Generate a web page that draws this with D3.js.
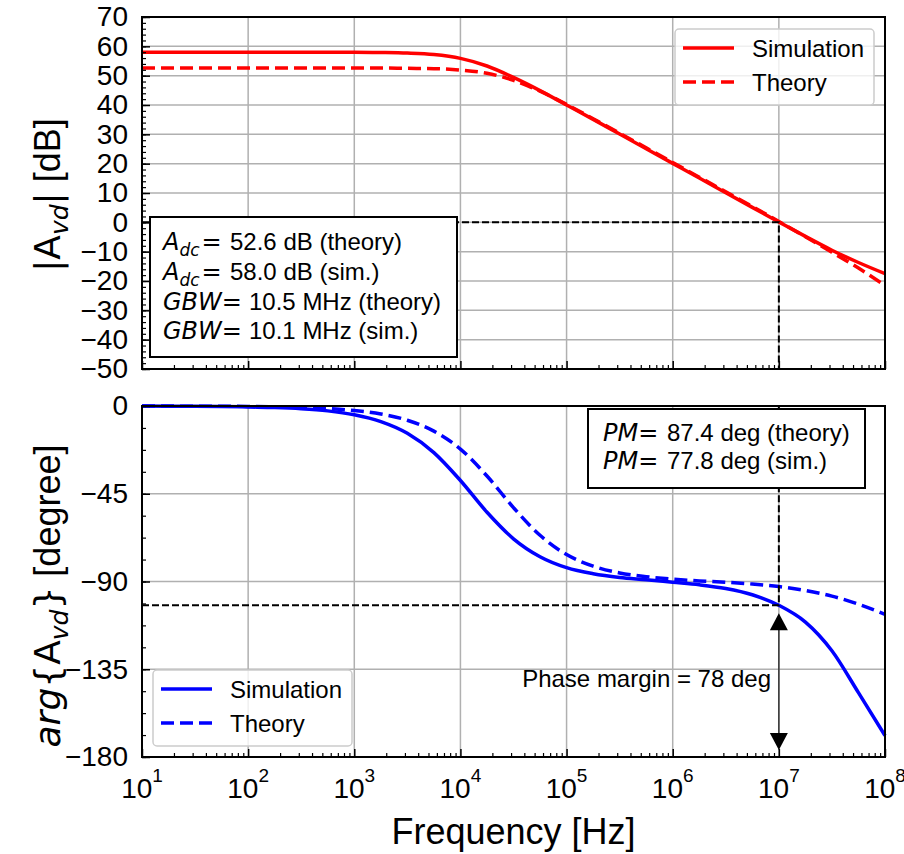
<!DOCTYPE html>
<html>
<head>
<meta charset="utf-8">
<script src="https://cdn.jsdelivr.net/npm/d3@7"></script>
<style>
  body { margin: 0; background: #fff; }
  svg { font-family: "Liberation Sans", Arial, sans-serif; }
  .math { font-family: "DejaVu Sans", sans-serif; }
</style>
</head>
<body>
<svg id="chart" width="904" height="854"></svg>
<script>
// frequencies in Hz (quarter-decade steps)
const freqs = [1e1, 1.78e1, 3.16e1, 5.62e1, 1e2, 1.78e2, 3.16e2, 5.62e2, 1e3, 1.78e3, 3.16e3, 5.62e3,
    1e4, 1.78e4, 3.16e4, 5.62e4, 1e5, 1.78e5, 3.16e5, 5.62e5, 1e6, 1.78e6, 3.16e6, 5.62e6,
    1e7, 1.78e7, 3.16e7, 5.62e7, 1e8];

// |Avd| in dB
const magSim = [58.0, 58.0, 58.0, 58.0, 58.0, 58.0, 58.0, 58.0, 58.0, 57.9, 57.7, 57.2,
    55.9, 53.3, 49.4, 44.9, 40.0, 35.1, 30.1, 25.1, 20.1, 15.1, 10.1, 5.1,
    0.1, -4.8, -9.5, -13.7, -17.5];
const magTheory = [52.6, 52.6, 52.6, 52.6, 52.6, 52.6, 52.6, 52.6, 52.6, 52.6, 52.5, 52.4,
    51.9, 50.8, 48.4, 44.7, 40.2, 35.3, 30.4, 25.4, 20.4, 15.4, 10.4, 5.4,
    0.3, -4.9, -10.2, -15.6, -21.5];

// arg{Avd} in degree
const phaseSim = [0, -0.1, -0.1, -0.2, -0.5, -0.8, -1.4, -2.5, -4.5, -8.0, -14.0, -23.9,
    -38.2, -54.5, -68.1, -77.3, -82.9, -86.0, -87.9, -89.1, -90.4, -91.7, -93.6, -96.8,
    -102.2, -110.8, -125.5, -147.0, -169.0];
const phaseTheory = [0, -0.05, -0.1, -0.1, -0.2, -0.4, -0.7, -1.3, -2.3, -4.1, -7.3, -12.9,
    -22.1, -35.9, -52.1, -66.3, -76.2, -82.1, -85.6, -87.5, -88.8, -89.7, -90.4, -91.3,
    -92.6, -94.6, -97.5, -101.6, -106.8];

const magTicks = [70, 60, 50, 40, 30, 20, 10, 0, -10, -20, -30, -40, -50];
const phaseTicks = [0, -45, -90, -135, -180];
const decades = [1, 2, 3, 4, 5, 6, 7, 8];

const fUnity = 1e7;        // 0 dB crossing
const pmPhase = -102.2;    // phase at crossing (PM = 77.8 deg)

const svg = d3.select("#chart");
const left = 142, right = 885;
const panels = [{ top: 17, bottom: 369 }, { top: 406, bottom: 757 }];

const x = d3.scaleLog().domain([1e1, 1e8]).range([left, right]);
const yMag = d3.scaleLinear().domain([-50, 70]).range([panels[0].bottom, panels[0].top]);
const yPh = d3.scaleLinear().domain([-180, 0]).range([panels[1].bottom, panels[1].top]);

const minorX = [];
for (let e = 1; e < 8; e++) for (let k = 2; k <= 9; k++) minorX.push(k * Math.pow(10, e));
const majorX = decades.map(e => Math.pow(10, e));

function drawGrid(y, yTicks, p) {
    const g = svg.append("g").attr("stroke", "#b0b0b0").attr("stroke-width", 1.5);
    majorX.forEach(f => g.append("line")
        .attr("x1", x(f)).attr("x2", x(f)).attr("y1", p.top).attr("y2", p.bottom));
    yTicks.forEach(v => g.append("line")
        .attr("x1", left).attr("x2", right).attr("y1", y(v)).attr("y2", y(v)));
}

function drawAxes(y, yTicks, yMinor, p, showX) {
    const ay = svg.append("g").attr("transform", `translate(${left},0)`)
        .call(d3.axisLeft(y).tickValues(yTicks).tickSize(-8).tickSizeOuter(0).tickPadding(14)
            .tickFormat(d => d < 0 ? "\u2212" + Math.abs(d) : d));
    ay.select(".domain").remove();
    ay.selectAll("line").attr("stroke-width", 1.5);
    ay.selectAll("text").attr("font-size", 28).attr("font-family", null).attr("fill", "#000");

    const ayMinor = svg.append("g").attr("transform", `translate(${left},0)`)
        .call(d3.axisLeft(y).tickValues(yMinor).tickSize(-4).tickSizeOuter(0).tickFormat(""));
    ayMinor.select(".domain").remove();
    ayMinor.selectAll("line").attr("stroke-width", 1.2);

    const ax = svg.append("g").attr("transform", `translate(0,${p.bottom})`)
        .call(d3.axisBottom(x).tickValues(majorX).tickSize(-8).tickSizeOuter(0).tickFormat(""));
    ax.select(".domain").remove();
    ax.selectAll("line").attr("stroke-width", 1.5);
    const axMinor = svg.append("g").attr("transform", `translate(0,${p.bottom})`)
        .call(d3.axisBottom(x).tickValues(minorX).tickSize(-4).tickSizeOuter(0).tickFormat(""));
    axMinor.select(".domain").remove();
    axMinor.selectAll("line").attr("stroke-width", 1.2);

    if (showX) {
        decades.forEach(e => {
            const t = svg.append("text").attr("x", x(Math.pow(10, e))).attr("y", p.bottom + 41)
                .attr("text-anchor", "middle").attr("font-size", 28);
            t.append("tspan").text("10");
            t.append("tspan").attr("dy", -16).attr("font-size", 19).text(e);
        });
    }
}

function drawSpine(p) {
    svg.append("rect").attr("x", left).attr("y", p.top)
        .attr("width", right - left).attr("height", p.bottom - p.top)
        .attr("fill", "none").attr("stroke", "#000").attr("stroke-width", 2);
}

function drawCurve(y, values, color, dashed) {
    const line = d3.line().x((d, i) => x(freqs[i])).y(d => y(d)).curve(d3.curveMonotoneX);
    svg.append("path").datum(values).attr("d", line)
        .attr("fill", "none").attr("stroke", color).attr("stroke-width", 3.5)
        .attr("stroke-dasharray", dashed ? "13,6" : null);
}

function drawLegend(bx, by, color) {
    const g = svg.append("g");
    g.append("rect").attr("x", bx).attr("y", by).attr("width", 199).attr("height", 76)
        .attr("rx", 4).attr("fill", "#fff").attr("fill-opacity", 0.8)
        .attr("stroke", "#ccc").attr("stroke-width", 1.5);
    [["Simulation", false], ["Theory", true]].forEach(([name, dashed], i) => {
        const ly = by + 19 + i * 34;
        g.append("line").attr("x1", bx + 8).attr("x2", bx + 59).attr("y1", ly).attr("y2", ly)
            .attr("stroke", color).attr("stroke-width", 3.5)
            .attr("stroke-dasharray", dashed ? "13,6" : null);
        g.append("text").attr("x", bx + 77).attr("y", ly + 8.5).attr("font-size", 24).text(name);
    });
}

// ---------- magnitude panel ----------
const p0 = panels[0];
drawGrid(yMag, magTicks, p0);
drawCurve(yMag, magTheory, "#ff0000", true);
drawCurve(yMag, magSim, "#ff0000", false);

svg.append("path")
    .attr("d", `M${left},${yMag(0)}H${x(fUnity)}V${p0.bottom}`)
    .attr("fill", "none").attr("stroke", "#000").attr("stroke-width", 2).attr("stroke-dasharray", "7,3");

const magBox = svg.append("g");
magBox.append("rect").attr("x", 150).attr("y", 217).attr("width", 307).attr("height", 140)
    .attr("fill", "#fff").attr("stroke", "#000").attr("stroke-width", 2);
const magLines = [
    ["A", "dc", "52.6 dB (theory)", 230],
    ["A", "dc", "58.0 dB (sim.)", 230],
    ["GBW", "", "10.5 MHz (theory)", 249],
    ["GBW", "", "10.1 MHz (sim.)", 249]
];
const magBase = [250, 280, 310, 339];
magLines.forEach(([sym, sub, rest, nx], i) => {
    const t = magBox.append("text").attr("x", 163).attr("y", magBase[i]).attr("font-size", 24);
    t.append("tspan").attr("class", "math").attr("font-style", "italic").text(sym);
    if (sub) {
        t.append("tspan").attr("class", "math").attr("font-style", "italic")
            .attr("font-size", 17).attr("dy", 6).text(sub);
        t.append("tspan").attr("class", "math").attr("dy", -6).attr("dx", 2).text("=");
    } else {
        t.append("tspan").attr("class", "math").text("=");
    }
    t.append("tspan").attr("x", nx).text(rest);
});

drawLegend(675, 29, "#ff0000");
drawAxes(yMag, magTicks, d3.range(-50, 71, 2), p0, false);
drawSpine(p0);

// ---------- phase panel ----------
const p1 = panels[1];
drawGrid(yPh, phaseTicks, p1);
drawCurve(yPh, phaseTheory, "#0000ff", true);
drawCurve(yPh, phaseSim, "#0000ff", false);

svg.append("path")
    .attr("d", `M${left},${yPh(pmPhase)}H${x(fUnity)}V${p1.top}`)
    .attr("fill", "none").attr("stroke", "#000").attr("stroke-width", 2).attr("stroke-dasharray", "7,3");

// double arrow for the phase margin
const ax0 = x(fUnity), aTop = yPh(pmPhase) + 8, aBot = p1.bottom - 7;
svg.append("line").attr("x1", ax0).attr("x2", ax0).attr("y1", aTop + 10).attr("y2", aBot - 10)
    .attr("stroke", "#333").attr("stroke-width", 1.5);
svg.append("path").attr("d", `M${ax0},${aTop}l-9,17h18z`).attr("fill", "#000");
svg.append("path").attr("d", `M${ax0},${aBot}l-9,-17h18z`).attr("fill", "#000");
svg.append("text").attr("x", 771).attr("y", 687).attr("text-anchor", "end")
    .attr("font-size", 24).text("Phase margin = 78 deg");

const pmBox = svg.append("g");
pmBox.append("rect").attr("x", 588).attr("y", 409).attr("width", 277).attr("height", 79)
    .attr("fill", "#fff").attr("stroke", "#000").attr("stroke-width", 2);
[["87.4 deg (theory)", 441], ["77.8 deg (sim.)", 469]].forEach(([rest, by]) => {
    const t = pmBox.append("text").attr("x", 603).attr("y", by).attr("font-size", 24);
    t.append("tspan").attr("class", "math").attr("font-style", "italic").text("PM");
    t.append("tspan").attr("class", "math").text("=");
    t.append("tspan").attr("x", 667).text(rest);
});

drawLegend(153, 670, "#0000ff");
drawAxes(yPh, phaseTicks, d3.range(-180, 1, 11.25), p1, true);
drawSpine(p1);

// ---------- axis titles ----------
const magTitle = svg.append("text").attr("transform", `translate(60,195) rotate(-90)`)
    .attr("text-anchor", "middle").attr("font-size", 36);
magTitle.append("tspan").attr("class", "math").text("|A");
magTitle.append("tspan").attr("class", "math").attr("font-style", "italic").attr("font-size", 25)
    .attr("dy", 8).text("vd");
magTitle.append("tspan").attr("class", "math").attr("dy", -8).text("|");
magTitle.append("tspan").text(" [dB]");

const phTitle = svg.append("text").attr("transform", `translate(60,596) rotate(-90)`)
    .attr("text-anchor", "middle").attr("font-size", 36);
phTitle.append("tspan").attr("class", "math").attr("font-style", "italic").text("arg");
phTitle.append("tspan").attr("class", "math").text("{A");
phTitle.append("tspan").attr("class", "math").attr("font-style", "italic").attr("font-size", 25)
    .attr("dy", 8).text("vd");
phTitle.append("tspan").attr("class", "math").attr("dy", -8).text("}");
phTitle.append("tspan").text(" [degree]");

svg.append("text").attr("x", (left + right) / 2).attr("y", 844).attr("text-anchor", "middle")
    .attr("font-size", 36).text("Frequency [Hz]");
</script>
</body>
</html>
